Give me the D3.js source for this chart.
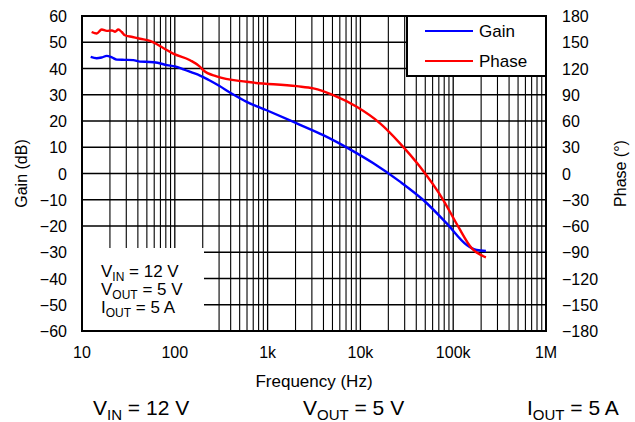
<!DOCTYPE html>
<meta charset="utf-8">
<head>
  <title></title>
  <script src="https://d3js.org/d3.v7.min.js"></script>
  <style>
    body { margin: 0; background: #fff; }
    svg text { font-family: "Liberation Sans", Arial, sans-serif; fill: #000; }
  </style>
</head>
<body>
<div id="chart"></div>
<script>

// data: frequency (Hz) and value
var gainFreq = [12.4, 14.4, 16.3, 18.5, 21, 23.7, 29, 35.7, 42.2, 54, 65, 82, 100, 124, 150, 187, 230, 294, 427, 595, 977, 2060, 3980, 7730, 13800, 26700, 47600, 85100, 140000, 179000, 225000];
var gainDb   = [44.4, 43.9, 44.2, 44.8, 44.2, 43.4, 43.3, 43.2, 42.6, 42.5, 42.2, 41.3, 40.8, 39.7, 38.6, 37.3, 35.7, 33.6, 30.1, 27.3, 24.1, 19.1, 14.6, 9.2, 3.9, -3.1, -10.1, -19, -27.2, -29.1, -29.5];

var phaseFreq = [12.7, 14.4, 16.3, 18.5, 21, 22.7, 24.6, 26.8, 29, 35, 42.2, 54, 75, 96, 146, 187, 203, 282, 595, 2060, 3110, 5100, 9120, 16300, 26700, 43900, 78200, 113000, 158000, 225000];
var phaseDeg  = [161.7, 160, 164.5, 163, 163.5, 162, 164.5, 161.7, 158, 156, 154, 151.5, 143.5, 137, 129.5, 122, 118, 111, 104.8, 99.8, 97.2, 89.5, 76.2, 57.3, 34.5, 7.7, -30.3, -60.5, -85.3, -95.8];

var freqTicks  = [10, 100, 1000, 10000, 100000, 1000000];
var freqLabels = ["10", "100", "1k", "10k", "100k", "1M"];
var gainTicks  = d3.range(-60, 61, 10);
var phaseTicks = d3.range(-180, 181, 30);

var width = 635, height = 422;
var pL = 82, pR = 546, pT = 16, pB = 331;

var svg = d3.select("#chart").append("svg")
    .attr("width", width)
    .attr("height", height);

var x = d3.scaleLog().domain([10, 1e6]).range([pL, pR]);
var yG = d3.scaleLinear().domain([-60, 60]).range([pB, pT]);
var yP = d3.scaleLinear().domain([-180, 180]).range([pB, pT]);

function minus(v) { return String(v).replace("-", "\u2212"); }

// minor vertical grid
var minors = [];
for (var dec = 10; dec < 1e6; dec *= 10) {
  for (var k = 2; k < 10; k++) minors.push(dec * k);
}
svg.append("g").selectAll("line")
  .data(minors)
  .enter().append("line")
    .attr("x1", function(d) { return x(d); })
    .attr("x2", function(d) { return x(d); })
    .attr("y1", pT).attr("y2", pB)
    .attr("stroke", "#000")
    .attr("stroke-width", 1.1);

// major vertical grid
svg.append("g").selectAll("line")
  .data(freqTicks)
  .enter().append("line")
    .attr("x1", function(d) { return x(d); })
    .attr("x2", function(d) { return x(d); })
    .attr("y1", pT).attr("y2", pB)
    .attr("stroke", "#000")
    .attr("stroke-width", 1.3);

// horizontal grid
svg.append("g").selectAll("line")
  .data(gainTicks)
  .enter().append("line")
    .attr("x1", pL).attr("x2", pR)
    .attr("y1", function(d) { return yG(d); })
    .attr("y2", function(d) { return yG(d); })
    .attr("stroke", "#000")
    .attr("stroke-width", 1.6);

// inset box with operating conditions
svg.append("rect")
  .attr("x", pL).attr("y", 248)
  .attr("width", 122).attr("height", pB - 248)
  .attr("fill", "#fff");

var conds = [["V", "IN", " = 12 V"], ["V", "OUT", " = 5 V"], ["I", "OUT", " = 5 A"]];
conds.forEach(function(c, i) {
  var t = svg.append("text")
    .attr("x", 101)
    .attr("y", 277 + i * 18)
    .style("font-size", "17px");
  t.append("tspan").text(c[0]);
  t.append("tspan").attr("dy", 4).style("font-size", "12px").text(c[1]);
  t.append("tspan").attr("dy", -4).text(c[2]);
});

// curves
var line = d3.line().curve(d3.curveMonotoneX);

svg.append("path")
  .attr("d", line(gainFreq.map(function(f, i) { return [x(f), yG(gainDb[i])]; })))
  .attr("fill", "none")
  .attr("stroke", "#0000ff")
  .attr("stroke-width", 2.4);

svg.append("path")
  .attr("d", line(phaseFreq.map(function(f, i) { return [x(f), yP(phaseDeg[i])]; })))
  .attr("fill", "none")
  .attr("stroke", "#ff0000")
  .attr("stroke-width", 2.4);

// frame
svg.append("rect")
  .attr("x", pL).attr("y", pT)
  .attr("width", pR - pL).attr("height", pB - pT)
  .attr("fill", "none")
  .attr("stroke", "#000")
  .attr("stroke-width", 2);

// legend
var lg = svg.append("g");
lg.append("rect")
  .attr("x", 407).attr("y", pT)
  .attr("width", pR - 407).attr("height", 60)
  .attr("fill", "#fff")
  .attr("stroke", "#000")
  .attr("stroke-width", 2);
[["Gain", "#0000ff"], ["Phase", "#ff0000"]].forEach(function(s, i) {
  lg.append("line")
    .attr("x1", 425).attr("x2", 473)
    .attr("y1", 31 + i * 30).attr("y2", 31 + i * 30)
    .attr("stroke", s[1]).attr("stroke-width", 2);
  lg.append("text")
    .attr("x", 479).attr("y", 37 + i * 30)
    .style("font-size", "17px")
    .text(s[0]);
});

// left axis labels
svg.append("g").selectAll("text")
  .data(gainTicks)
  .enter().append("text")
    .attr("x", 67)
    .attr("y", function(d) { return yG(d) + 6; })
    .attr("text-anchor", "end")
    .style("font-size", "16px")
    .text(function(d) { return minus(d); });

// right axis labels
svg.append("g").selectAll("text")
  .data(phaseTicks)
  .enter().append("text")
    .attr("x", 562)
    .attr("y", function(d) { return yP(d) + 6; })
    .style("font-size", "16px")
    .text(function(d) { return minus(d); });

// bottom axis labels
svg.append("g").selectAll("text")
  .data(freqTicks)
  .enter().append("text")
    .attr("x", function(d) { return x(d); })
    .attr("y", 358)
    .attr("text-anchor", "middle")
    .style("font-size", "16px")
    .text(function(d, i) { return freqLabels[i]; });

svg.append("text")
  .attr("x", (pL + pR) / 2).attr("y", 387)
  .attr("text-anchor", "middle")
  .style("font-size", "17px")
  .text("Frequency (Hz)");

svg.append("text")
  .attr("transform", "translate(27," + (pT + pB) / 2 + ") rotate(-90)")
  .attr("text-anchor", "middle")
  .style("font-size", "16px")
  .text("Gain (dB)");

svg.append("text")
  .attr("transform", "translate(626," + (pT + pB) / 2 + ") rotate(-90)")
  .attr("text-anchor", "middle")
  .style("font-size", "16px")
  .text("Phase (\u00b0)");

// conditions under the chart
var foot = [[93, "V", "IN", " = 12 V"], [303, "V", "OUT", " = 5 V"], [527, "I", "OUT", " = 5 A"]];
foot.forEach(function(c) {
  var t = svg.append("text")
    .attr("x", c[0]).attr("y", 415)
    .style("font-size", "21px");
  t.append("tspan").text(c[1]);
  t.append("tspan").attr("dy", 5).style("font-size", "15px").text(c[2]);
  t.append("tspan").attr("dy", -5).text(c[3]);
});

</script>
</body>
</html>
